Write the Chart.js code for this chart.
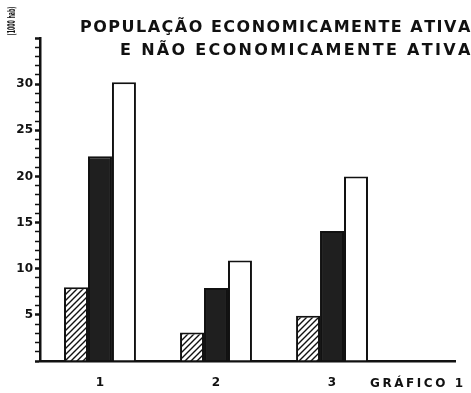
<!doctype html>
<html>

<head>
    <meta charset="utf-8">
    <title>Gráfico 1</title>
    <script src="https://cdn.jsdelivr.net/npm/chart.js"></script>
    <style>
        html, body { margin: 0; padding: 0; background: #fff; }
        #wrap { width: 471px; height: 393px; }
    </style>
</head>

<body>

    <div id="wrap">
        <canvas id="grafico"></canvas>
    </div>

    <script>

        // dados (milhares de habitantes)
        const grupos = [1, 2, 3]
        const ativa = [8, 3.1, 4.9]
        const naoAtiva = [22.2, 7.9, 14.1]
        const total = [30.2, 10.9, 20]
        const marcasY = [5, 10, 15, 20, 25, 30]

        const tituloLinhas = ['POPULAÇÃO ECONOMICAMENTE ATIVA', 'E NÃO ECONOMICAMENTE ATIVA']
        const unidade = '(1000 hab)'
        const rodape = 'GRÁFICO 1'

        const fonte = '"DejaVu Sans", "Liberation Sans", sans-serif'

        // hachura diagonal das barras da população ativa
        function hachura() {
            const c = document.createElement('canvas');
            c.width = 6; c.height = 6;
            const g = c.getContext('2d');
            g.fillStyle = '#fff';
            g.fillRect(0, 0, 6, 6);
            g.strokeStyle = '#111';
            g.lineWidth = 1.4;
            g.beginPath();
            g.moveTo(-1, 7); g.lineTo(7, -1);
            g.moveTo(-4, 4); g.lineTo(4, -4);
            g.moveTo(2, 10); g.lineTo(10, 2);
            g.stroke();
            return g.createPattern(c, 'repeat');
        }

        const pontos = (valores) => grupos.map((x, i) => ({ x: x, y: valores[i] }));

        // escreve texto espaçado até ocupar a largura pedida
        function textoEspacado(ctx, texto, xDir, y, fonteCss, largura) {
            ctx.font = fonteCss;
            const base = ctx.measureText(texto).width;
            const n = texto.length - 1;
            const esp = n > 0 ? (largura - base) / n : 0;
            let x = xDir - largura;
            ctx.textAlign = 'left';
            for (const ch of texto) {
                ctx.fillText(ch, x, y);
                x += ctx.measureText(ch).width + esp;
            }
        }

        const textos = {
            id: 'textos',
            beforeDraw(chart) {
                const ctx = chart.ctx;
                ctx.save();
                ctx.fillStyle = '#fff';
                ctx.fillRect(0, 0, chart.width, chart.height);
                ctx.restore();
            },
            afterDraw(chart) {
                const ctx = chart.ctx;
                ctx.save();
                ctx.fillStyle = '#111';
                ctx.textBaseline = 'middle';
                textoEspacado(ctx, tituloLinhas[0], 468, 28, 'bold 16px ' + fonte, 388);
                textoEspacado(ctx, tituloLinhas[1], 468, 51, 'bold 16px ' + fonte, 348);
                textoEspacado(ctx, rodape, 463, 384, 'bold 12px ' + fonte, 93);

                // unidade do eixo vertical, na vertical acima do eixo
                ctx.translate(12, 21);
                ctx.rotate(-Math.PI / 2);
                ctx.font = 'bold 11px ' + fonte;
                const w = ctx.measureText(unidade).width;
                ctx.scale(29 / w, 1);
                ctx.textAlign = 'center';
                ctx.fillText(unidade, 0, 0);
                ctx.restore();
            }
        };

        const borda = { color: '#111', width: 2.5 };

        var grafico = new Chart(document.getElementById('grafico').getContext('2d'), {
            type: 'bar',
            data: {
                datasets: [{
                    label: 'Ativa',
                    data: pontos(ativa),
                    backgroundColor: hachura(),
                    borderColor: '#111',
                    borderWidth: 2
                }, {
                    label: 'Não ativa',
                    data: pontos(naoAtiva),
                    backgroundColor: '#1f1f1f',
                    borderColor: '#111',
                    borderWidth: 2
                }, {
                    label: 'Total',
                    data: pontos(total),
                    backgroundColor: '#fff',
                    borderColor: '#111',
                    borderWidth: 2
                }]
            },
            options: {
                responsive: true,
                maintainAspectRatio: false,
                animation: false,
                layout: { padding: { top: 38, right: 16, left: 0, bottom: 0 } },
                datasets: {
                    bar: { categoryPercentage: 0.62, barPercentage: 1.0 }
                },
                plugins: {
                    legend: { display: false },
                    tooltip: { enabled: false }
                },
                scales: {
                    x: {
                        type: 'linear',
                        offset: false,
                        min: 0.483,
                        max: 4.06,
                        border: borda,
                        grid: { display: false },
                        afterBuildTicks: (s) => { s.ticks = grupos.map(v => ({ value: v })); },
                        afterFit: (s) => { s.height = 32; },
                        ticks: {
                            padding: 7,
                            color: '#111',
                            font: { family: fonte, size: 12, weight: 'bold' },
                            callback: (v) => String(v)
                        }
                    },
                    y: {
                        min: 0,
                        max: 35,
                        border: borda,
                        afterFit: (s) => { s.width = 40; },
                        grid: {
                            drawOnChartArea: false,
                            tickLength: 5,
                            tickColor: '#111',
                            tickWidth: (c) => (c.tick && c.tick.value % 5 === 0) ? 2.5 : 1.5
                        },
                        ticks: {
                            stepSize: 1,
                            padding: 2,
                            color: '#111',
                            autoSkip: false,
                            font: { family: fonte, size: 12, weight: 'bold' },
                            callback: (v) => marcasY.includes(v) ? String(v) : ''
                        }
                    }
                }
            },
            plugins: [textos]
        });
    </script>
</body>

</html>
